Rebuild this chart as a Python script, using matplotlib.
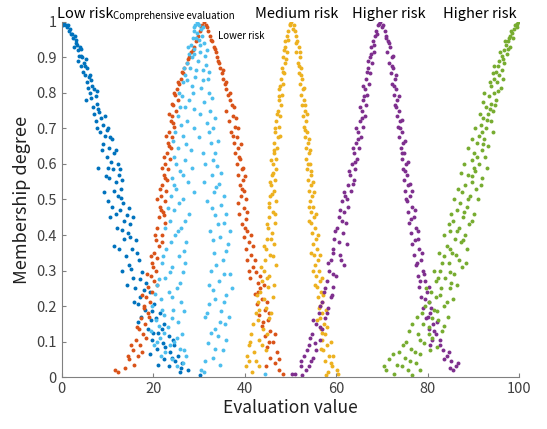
import numpy as np
import matplotlib
matplotlib.use("Agg")
import matplotlib.pyplot as plt

plt.rcParams['font.family'] = ['Noto Sans CJK SC', 'DejaVu Sans']

# membership points, (evaluation value, membership degree)
low_risk = [(0.1,1.00),(0.5,0.995),(0.9,0.99),(1.2,0.985),(1.6,0.975),(1.9,0.98),(2.2,0.965),(2.5,0.955),(2.8,0.96),(3.0,0.94),
            (3.3,0.935),(3.6,0.92),(3.9,0.93),(4.1,0.905),(4.4,0.90),(3.5,0.89),(4.8,0.885),(5.1,0.875),(5.6,0.87),(4.6,0.86),
            (5.9,0.845),(6.2,0.85),(5.4,0.83),(6.6,0.82),(7.0,0.81),(6.1,0.80),(7.4,0.79),(5.3,0.78),(7.8,0.77),(6.8,0.76),
            (8.1,0.745),(8.6,0.73),(7.4,0.72),(9.0,0.71),(10.2,0.70),(8.4,0.69),(9.5,0.68),(11.0,0.67),(9.0,0.655),(10.3,0.645),
            (11.5,0.63),(9.8,0.62),(10.8,0.605),(12.2,0.60),(8.0,0.59),(11.3,0.585),(12.6,0.57),(10.4,0.56),(11.9,0.55),(13.0,0.53),
            (9.2,0.52),(12.3,0.51),(13.4,0.49),(11.0,0.48),(12.8,0.47),(14.2,0.455),(10.5,0.45),(13.5,0.44),(15.0,0.43),(12.0,0.42),
            (14.4,0.405),(13.6,0.39),(16.2,0.385),(11.5,0.37),(15.4,0.36),(14.0,0.34),(16.8,0.33),(14.8,0.315),(13.2,0.30),(17.5,0.295),
            (15.6,0.28),(18.5,0.265),(16.0,0.25),(19.2,0.24),(17.2,0.225),(15.8,0.21),(20.2,0.205),(18.3,0.19),(21.5,0.18),(17.4,0.17),
            (19.6,0.16),(22.3,0.15),(18.8,0.135),(21.0,0.125),(23.5,0.115),(19.8,0.105),(22.2,0.095),(24.6,0.09),(20.8,0.08),(23.6,0.07),
            (25.4,0.06),(22.4,0.05),(24.8,0.045),(26.3,0.04),(23.4,0.03),(27.5,0.02),(25.8,0.015),(30.2,0.005),
            (0.3,0.99),(1.4,0.99),(2.0,0.965),(3.2,0.95),(2.6,0.93),(4.3,0.925),(3.8,0.905),(5.3,0.895),(4.2,0.875),(5.0,0.85),
            (6.4,0.835),(5.7,0.815),(7.6,0.805),(6.4,0.785),(8.0,0.755),(7.1,0.74),(9.4,0.735),(7.8,0.70),(9.8,0.695),(10.6,0.675),
            (8.8,0.64),(11.8,0.64),(10.0,0.59),(12.8,0.585),(9.6,0.565),(13.2,0.555),(11.4,0.525),(12.9,0.505),(10.0,0.495),(14.6,0.475),
            (11.8,0.46),(15.6,0.45),(13.2,0.415),(14.9,0.395),(12.6,0.36),(16.4,0.35),(15.2,0.305),(17.0,0.275),(14.2,0.26),(18.0,0.245),
            (16.6,0.205),(19.8,0.185),(20.6,0.165),(16.6,0.155),(21.8,0.135),(20.0,0.125),(24.4,0.105),(22.6,0.085),(19.2,0.065),(24.2,0.055),
            (26.0,0.025),(21.0,0.035)]

lower_risk = [(31.0,1.00),(30.6,0.99),(31.5,0.99),(30.2,0.975),(32.0,0.975),(29.8,0.96),(32.5,0.96),(29.3,0.945),(32.9,0.945),(28.8,0.93),
              (33.3,0.93),(28.3,0.915),(33.7,0.915),(27.8,0.90),(34.0,0.90),(27.3,0.885),(34.4,0.885),(26.8,0.87),(34.7,0.87),(26.5,0.855),
              (35.0,0.855),(26.0,0.84),(35.3,0.84),(25.6,0.825),(35.7,0.825),(25.2,0.81),(36.0,0.81),(24.8,0.795),(36.3,0.795),(25.5,0.78),
              (36.7,0.78),(24.4,0.765),(37.2,0.765),(24.9,0.75),(36.0,0.75),(24.1,0.735),(37.5,0.735),(23.8,0.72),(36.6,0.72),(24.6,0.705),
              (37.9,0.705),(23.5,0.69),(37.0,0.69),(24.2,0.675),(38.3,0.675),(23.2,0.66),(37.6,0.66),(23.9,0.645),(38.6,0.645),(22.9,0.63),
              (37.9,0.63),(23.6,0.615),(39.0,0.615),(22.6,0.60),(38.3,0.60),(23.3,0.585),(39.3,0.585),(22.3,0.57),(38.6,0.57),(23.0,0.555),
              (39.6,0.555),(22.0,0.54),(38.9,0.54),(22.8,0.525),(39.9,0.525),(21.7,0.51),(39.2,0.51),(22.5,0.495),(38.6,0.49),(21.5,0.48),
              (39.8,0.475),(22.2,0.465),(38.8,0.46),(21.2,0.45),(40.2,0.445),(22.6,0.435),(39.4,0.43),(20.9,0.42),(40.6,0.41),(21.8,0.40),
              (39.8,0.395),(20.6,0.385),(41.0,0.38),(21.3,0.37),(40.2,0.36),(20.2,0.35),(41.4,0.345),(20.9,0.335),(40.6,0.33),(19.8,0.32),
              (41.8,0.31),(20.5,0.30),(42.4,0.295),(19.4,0.285),(41.2,0.28),(20.2,0.27),(42.8,0.265),(18.9,0.255),(43.4,0.25),(19.7,0.24),
              (42.2,0.235),(18.4,0.225),(43.8,0.22),(19.3,0.21),(42.6,0.205),(17.9,0.195),(44.4,0.19),(18.8,0.18),(43.2,0.175),(17.4,0.165),
              (45.0,0.16),(18.3,0.15),(43.8,0.145),(16.8,0.135),(45.6,0.13),(17.7,0.12),(44.4,0.115),(16.2,0.105),(46.2,0.10),(17.2,0.09),
              (44.9,0.085),(15.6,0.075),(47.0,0.07),(16.6,0.06),(45.6,0.055),(14.8,0.05),(46.6,0.04),(15.8,0.035),(13.8,0.025),(47.6,0.02),
              (12.2,0.015),(11.6,0.02),(48.4,0.008),
              (30.4,0.985),(31.8,0.985),(29.6,0.95),(32.7,0.95),(28.6,0.92),(33.5,0.925),(27.6,0.895),(34.2,0.89),(26.2,0.86),(35.2,0.865),
              (25.4,0.83),(35.9,0.83),(24.6,0.80),(36.8,0.80),(24.0,0.77),(37.6,0.76),(23.4,0.74),(38.2,0.73),(24.4,0.715),(38.6,0.70),
              (22.8,0.68),(37.4,0.68),(23.4,0.65),(39.2,0.655),(22.4,0.62),(38.8,0.62),(21.8,0.59),(39.6,0.59),(22.6,0.56),(40.0,0.565),
              (21.4,0.53),(39.4,0.53),(20.8,0.50),(40.2,0.50),(21.6,0.47),(40.6,0.465),(22.4,0.455),(40.0,0.42),(20.4,0.40),(41.4,0.40),
              (21.8,0.38),(41.8,0.37),(19.6,0.34),(42.2,0.33),(20.0,0.31),(41.0,0.30),(18.6,0.29),(43.4,0.285),(20.8,0.26),(44.2,0.26),
              (17.6,0.23),(42.8,0.24),(18.0,0.20),(44.8,0.21),(19.0,0.17),(45.4,0.18),(16.4,0.14),(44.0,0.155),(18.4,0.11),(46.6,0.12),
              (15.2,0.09),(45.4,0.10),(17.6,0.07),(47.6,0.05),(14.4,0.06),(44.6,0.03)]

comprehensive = [(29.6,1.00),(29.2,0.99),(30.1,0.99),(28.9,0.975),(30.4,0.98),(29.5,0.97),(28.6,0.955),(30.7,0.96),(29.9,0.95),(28.2,0.935),
                 (31.0,0.94),(29.0,0.925),(27.8,0.91),(30.3,0.915),(31.3,0.905),(28.5,0.90),(27.4,0.885),(29.7,0.89),(31.6,0.88),(28.0,0.87),
                 (30.8,0.865),(27.0,0.85),(29.2,0.845),(31.9,0.84),(26.6,0.83),(28.4,0.82),(30.4,0.815),(32.1,0.80),(26.2,0.79),(27.8,0.78),
                 (31.2,0.775),(25.8,0.76),(29.0,0.755),(32.5,0.75),(25.5,0.735),(27.3,0.72),(31.8,0.715),(33.0,0.70),(24.8,0.69),(26.6,0.68),
                 (30.0,0.675),(32.6,0.66),(25.3,0.645),(28.2,0.64),(33.6,0.63),(24.6,0.62),(26.9,0.61),(31.4,0.60),(34.0,0.595),(25.8,0.58),
                 (32.8,0.57),(24.2,0.56),(27.5,0.55),(34.4,0.545),(25.0,0.53),(33.2,0.52),(23.8,0.51),(26.4,0.50),(31.8,0.495),(34.8,0.485),
                 (24.6,0.47),(27.8,0.46),(33.6,0.455),(23.6,0.44),(35.5,0.435),(26.0,0.42),(32.4,0.41),(24.8,0.40),(34.6,0.395),(27.2,0.38),
                 (36.4,0.375),(22.8,0.36),(33.2,0.35),(25.6,0.34),(35.2,0.33),(21.8,0.32),(24.2,0.31),(32.6,0.30),(26.4,0.295),(36.8,0.29),
                 (22.6,0.28),(34.4,0.27),(20.8,0.26),(25.2,0.25),(33.0,0.245),(23.4,0.24),(36.0,0.23),(21.6,0.22),(26.0,0.21),(32.2,0.205),
                 (19.8,0.20),(24.4,0.19),(34.8,0.185),(22.4,0.175),(31.4,0.17),(20.6,0.16),(25.4,0.155),(35.6,0.15),(23.2,0.14),(33.4,0.135),
                 (19.4,0.13),(26.2,0.12),(34.2,0.115),(21.4,0.11),(24.6,0.10),(32.0,0.095),(20.2,0.09),(25.8,0.08),(35.2,0.075),(22.6,0.07),
                 (27.2,0.06),(33.0,0.055),(24.0,0.05),(26.4,0.04),(30.4,0.02),(31.2,0.015),(44.5,0.01),
                 (29.8,0.995),(28.8,0.985),(30.9,0.985),(29.4,0.955),(30.2,0.935),(27.6,0.93),(28.8,0.91),(31.8,0.92),(26.8,0.87),(29.4,0.865),
                 (32.2,0.86),(27.4,0.835),(30.8,0.835),(28.6,0.80),(25.6,0.80),(32.8,0.785),(27.0,0.76),(30.2,0.74),(33.4,0.73),(26.0,0.71),
                 (28.8,0.70),(32.2,0.69),(24.4,0.665),(34.2,0.665),(27.2,0.655),(30.8,0.63),(25.0,0.60),(33.0,0.61),(28.4,0.59),(34.8,0.575),
                 (26.4,0.57),(31.0,0.55),(24.6,0.54),(33.8,0.535),(28.8,0.52),(35.4,0.51),(25.6,0.49),(32.8,0.475),(23.2,0.475),(36.0,0.46),
                 (27.0,0.44),(34.2,0.43),(22.6,0.42),(25.4,0.41),(36.8,0.41),(33.0,0.385),(23.8,0.38),(26.8,0.355),(35.8,0.355),(22.2,0.34),
                 (33.8,0.315),(27.0,0.32),(23.6,0.295),(35.4,0.29),(21.2,0.275),(25.8,0.265),(32.2,0.26),(37.2,0.25),(24.0,0.225),(33.6,0.22),
                 (20.4,0.235),(35.4,0.21),(22.0,0.19),(26.8,0.185),(31.8,0.18),(36.6,0.17),(24.2,0.165),(21.2,0.145),(34.6,0.155),(32.6,0.125),
                 (22.4,0.125),(25.2,0.11),(36.0,0.105),(20.8,0.10),(33.6,0.08),(23.6,0.09),(21.6,0.06),(26.8,0.075),(31.4,0.045),(25.2,0.03),
                 (34.6,0.035)]

medium_risk = [(50.2,1.00),(49.8,0.99),(50.7,0.99),(49.5,0.975),(51.0,0.975),(49.2,0.96),(51.3,0.96),(48.9,0.945),(51.5,0.945),(48.7,0.93),
               (51.8,0.93),(49.3,0.915),(51.3,0.915),(48.4,0.90),(52.1,0.90),(48.9,0.885),(51.6,0.885),(48.1,0.87),(52.3,0.87),(48.6,0.855),
               (51.9,0.855),(47.9,0.84),(52.6,0.84),(48.4,0.825),(52.1,0.825),(47.6,0.81),(52.8,0.81),(48.2,0.795),(52.3,0.795),(47.4,0.78),
               (53.0,0.78),(47.9,0.765),(52.5,0.765),(47.2,0.75),(53.2,0.75),(47.7,0.735),(52.7,0.735),(46.9,0.72),(53.4,0.72),(47.5,0.705),
               (52.9,0.705),(46.7,0.69),(53.6,0.69),(47.3,0.675),(53.1,0.675),(46.5,0.66),(53.8,0.66),(47.1,0.645),(53.3,0.645),(46.3,0.63),
               (54.0,0.63),(46.9,0.615),(53.5,0.615),(46.1,0.60),(54.2,0.60),(46.8,0.585),(53.7,0.585),(45.9,0.57),(54.4,0.57),(46.6,0.555),
               (53.9,0.555),(45.7,0.54),(54.6,0.54),(46.4,0.525),(54.0,0.525),(45.6,0.51),(54.8,0.51),(46.8,0.495),(54.2,0.495),(45.4,0.48),
               (55.0,0.48),(46.2,0.465),(54.4,0.465),(45.2,0.45),(55.2,0.45),(46.6,0.435),(54.6,0.435),(45.0,0.42),(55.4,0.42),(46.0,0.405),
               (54.8,0.405),(44.8,0.39),(55.6,0.39),(46.4,0.375),(55.0,0.375),(44.6,0.36),(55.8,0.36),(45.6,0.345),(55.2,0.345),(44.4,0.33),
               (56.0,0.33),(46.8,0.315),(55.4,0.315),(44.2,0.30),(56.2,0.30),(45.4,0.285),(55.6,0.285),(43.8,0.27),(56.4,0.27),(45.0,0.255),
               (55.8,0.255),(43.4,0.24),(56.6,0.24),(46.2,0.225),(56.0,0.225),(42.9,0.21),(56.8,0.21),(44.6,0.195),(56.2,0.195),(42.4,0.18),
               (57.0,0.18),(45.4,0.165),(56.4,0.165),(41.9,0.15),(57.3,0.15),(44.0,0.135),(56.6,0.135),(41.4,0.12),(57.6,0.12),(43.2,0.105),
               (56.9,0.105),(40.9,0.09),(58.0,0.09),(44.6,0.075),(57.2,0.075),(40.6,0.06),(58.4,0.06),(42.4,0.045),(57.6,0.045),(40.2,0.03),
               (59.0,0.03),(41.6,0.015),(58.2,0.015),(60.4,0.008),(57.8,0.005),
               (50.0,0.995),(50.5,0.98),(49.4,0.95),(51.2,0.94),(48.6,0.92),(52.0,0.915),(49.0,0.895),(51.8,0.875),(48.3,0.86),(52.4,0.85),
               (47.8,0.82),(52.9,0.815),(47.5,0.79),(53.1,0.765),(47.0,0.74),(53.6,0.74),(46.6,0.70),(53.2,0.695),(47.8,0.68),(54.0,0.67),
               (46.4,0.64),(54.3,0.64),(45.8,0.61),(53.8,0.60),(46.2,0.575),(54.6,0.58),(45.5,0.55),(55.0,0.55),(46.0,0.515),(55.2,0.52),
               (45.2,0.49),(54.0,0.48),(46.6,0.46),(55.6,0.46),(44.8,0.43),(54.0,0.44),(45.8,0.39),(56.0,0.40),(44.2,0.37),(54.6,0.35),
               (46.2,0.34),(56.4,0.345),(43.6,0.31),(55.0,0.30),(44.8,0.28),(57.0,0.28),(46.4,0.26),(55.4,0.26),(42.6,0.23),(57.2,0.23),
               (44.2,0.22),(56.4,0.20),(43.2,0.19),(57.8,0.19),(45.8,0.18),(55.8,0.16),(42.8,0.16),(58.0,0.14),(44.8,0.12),(57.0,0.125),
               (41.2,0.10),(58.8,0.10),(43.8,0.09),(56.6,0.08),(42.0,0.07),(59.4,0.06),(43.2,0.03),(58.8,0.04),(41.0,0.045),(60.2,0.02)]

higher_risk = [(69.6,1.00),(69.1,0.99),(70.2,0.99),(68.7,0.975),(70.6,0.975),(68.4,0.96),(71.0,0.96),(68.0,0.945),(71.3,0.945),(67.7,0.93),
               (71.7,0.93),(68.3,0.915),(71.2,0.915),(67.3,0.90),(72.1,0.90),(67.8,0.885),(71.6,0.885),(66.9,0.87),(72.5,0.87),(67.4,0.855),
               (72.0,0.855),(66.6,0.84),(72.8,0.84),(67.1,0.825),(72.3,0.825),(66.3,0.81),(73.1,0.81),(66.8,0.795),(72.6,0.795),(65.9,0.78),
               (73.4,0.78),(66.5,0.765),(72.9,0.765),(65.6,0.75),(73.7,0.75),(66.2,0.735),(73.2,0.735),(65.2,0.72),(74.0,0.72),(65.8,0.705),
               (73.5,0.705),(64.8,0.69),(74.3,0.69),(65.4,0.675),(73.8,0.675),(64.4,0.66),(74.6,0.66),(65.0,0.645),(74.1,0.645),(64.0,0.63),
               (74.9,0.63),(64.6,0.615),(74.3,0.615),(63.5,0.60),(75.2,0.60),(64.2,0.585),(74.6,0.585),(63.0,0.57),(75.5,0.57),(63.8,0.555),
               (74.9,0.555),(62.5,0.54),(75.8,0.54),(63.3,0.525),(75.1,0.525),(62.0,0.51),(76.2,0.51),(61.2,0.495),(75.4,0.495),(62.6,0.48),
               (76.6,0.48),(61.6,0.465),(75.7,0.465),(60.6,0.45),(77.0,0.45),(62.2,0.435),(76.0,0.435),(60.2,0.42),(77.4,0.42),(61.4,0.405),
               (76.3,0.405),(59.6,0.39),(77.8,0.39),(62.4,0.375),(76.6,0.375),(59.2,0.36),(78.2,0.36),(60.8,0.345),(77.0,0.345),(58.8,0.33),
               (78.6,0.33),(61.6,0.315),(77.4,0.315),(58.4,0.30),(79.0,0.30),(60.0,0.285),(77.8,0.285),(57.9,0.27),(79.4,0.27),(59.4,0.255),
               (78.2,0.255),(57.4,0.24),(79.8,0.24),(58.8,0.225),(78.6,0.225),(56.8,0.21),(80.2,0.21),(58.2,0.195),(79.0,0.195),(56.2,0.18),
               (80.6,0.18),(57.6,0.165),(79.6,0.165),(55.6,0.15),(81.2,0.15),(57.0,0.135),(80.4,0.135),(54.8,0.12),(81.8,0.12),(56.4,0.105),
               (81.0,0.105),(54.0,0.09),(82.6,0.09),(55.6,0.075),(83.4,0.075),(53.0,0.06),(84.2,0.06),(54.6,0.045),(85.0,0.045),(52.2,0.03),
               (86.2,0.03),(53.4,0.02),(85.6,0.02),(51.0,0.01),(52.6,0.005),
               (69.4,0.995),(70.0,0.985),(68.9,0.965),(70.8,0.955),(68.2,0.935),(71.5,0.94),(67.6,0.91),(72.4,0.905),(67.0,0.89),(72.2,0.875),
               (66.7,0.86),(73.0,0.85),(65.8,0.82),(72.6,0.82),(66.0,0.79),(73.7,0.79),(65.2,0.76),(73.0,0.76),(65.6,0.73),(74.4,0.725),
               (64.4,0.70),(74.0,0.70),(64.8,0.67),(75.0,0.665),(63.6,0.645),(74.4,0.63),(64.2,0.605),(75.6,0.605),(62.8,0.58),(75.0,0.58),
               (63.6,0.545),(76.2,0.545),(61.6,0.52),(76.6,0.525),(62.4,0.50),(75.2,0.50),(60.8,0.47),(77.2,0.47),(61.2,0.44),(76.4,0.445),
               (59.8,0.41),(78.0,0.41),(60.6,0.38),(77.2,0.385),(59.4,0.35),(78.8,0.35),(61.0,0.33),(77.6,0.32),(58.2,0.32),(79.2,0.29),
               (59.4,0.29),(78.4,0.27),(57.6,0.25),(80.2,0.255),(59.0,0.23),(79.4,0.22),(56.4,0.20),(80.8,0.195),(58.0,0.18),(80.0,0.17),
               (55.0,0.16),(82.0,0.155),(56.4,0.14),(81.4,0.13),(54.2,0.11),(82.8,0.105),(55.4,0.095),(80.6,0.09),(53.6,0.075),(84.6,0.07),
               (55.0,0.055),(83.6,0.05),(52.4,0.045),(86.6,0.04),(54.0,0.03),(84.8,0.025),(50.4,0.008)]

high_risk = [(99.8,1.00),(99.3,0.99),(98.9,0.98),(99.5,0.985),(98.5,0.97),(98.0,0.96),(98.7,0.955),(97.6,0.945),(97.1,0.935),(98.0,0.93),
             (96.7,0.92),(97.4,0.91),(96.2,0.905),(95.7,0.89),(96.8,0.885),(95.3,0.875),(96.2,0.865),(94.9,0.86),(95.7,0.85),(94.5,0.84),
             (95.2,0.83),(93.9,0.82),(96.0,0.815),(94.6,0.80),(93.4,0.79),(95.0,0.78),(93.9,0.77),(92.8,0.76),(94.4,0.75),(93.2,0.74),
             (92.2,0.73),(93.8,0.72),(91.6,0.71),(92.8,0.70),(94.2,0.69),(91.2,0.68),(92.4,0.67),(90.8,0.66),(93.2,0.65),(91.8,0.64),
             (90.2,0.63),(92.6,0.62),(89.6,0.61),(91.2,0.60),(93.0,0.59),(90.4,0.58),(88.8,0.57),(91.8,0.56),(89.6,0.55),(88.2,0.54),
             (90.6,0.53),(87.6,0.52),(89.2,0.51),(91.0,0.50),(87.0,0.49),(88.6,0.48),(86.4,0.47),(90.2,0.46),(87.8,0.45),(85.6,0.44),
             (89.0,0.43),(86.8,0.42),(84.8,0.41),(88.2,0.40),(86.0,0.39),(87.4,0.38),(84.2,0.37),(88.6,0.36),(85.4,0.35),(83.6,0.34),
             (86.8,0.33),(84.6,0.32),(87.6,0.31),(82.8,0.30),(85.8,0.29),(83.8,0.28),(81.8,0.27),(86.4,0.26),(84.8,0.25),(80.8,0.24),
             (82.8,0.23),(85.6,0.22),(80.2,0.21),(83.6,0.20),(81.4,0.19),(78.8,0.18),(84.4,0.17),(82.2,0.16),(76.6,0.15),(80.2,0.14),
             (83.2,0.13),(77.8,0.12),(81.0,0.11),(75.2,0.10),(79.2,0.095),(82.0,0.085),(76.4,0.08),(73.8,0.07),(78.4,0.065),(75.0,0.055),
             (71.6,0.05),(77.4,0.04),(73.2,0.035),(70.4,0.03),(75.6,0.02),(72.6,0.01),(76.6,0.005),
             (99.6,0.995),(99.0,0.99),(98.2,0.975),(97.8,0.955),(96.9,0.945),(97.6,0.925),(95.8,0.915),(96.4,0.895),(94.6,0.875),(96.4,0.84),
             (94.2,0.855),(93.6,0.83),(95.4,0.805),(92.4,0.80),(94.8,0.765),(92.0,0.775),(93.6,0.755),(91.4,0.74),(93.0,0.725),(90.4,0.70),
             (91.8,0.69),(89.8,0.67),(92.0,0.655),(88.8,0.645),(90.8,0.62),(88.0,0.60),(90.2,0.59),(87.4,0.575),(89.8,0.565),(91.6,0.54),
             (86.6,0.53),(88.8,0.50),(85.8,0.50),(88.0,0.465),(85.0,0.46),(89.6,0.44),(84.6,0.43),(86.4,0.41),(83.6,0.40),(87.8,0.385),
             (84.8,0.36),(82.4,0.35),(86.2,0.345),(83.2,0.32),(88.4,0.32),(81.4,0.30),(84.8,0.295),(82.2,0.28),(85.2,0.265),(79.6,0.25),
             (83.0,0.25),(81.8,0.225),(84.2,0.21),(79.4,0.20),(82.0,0.185),(77.6,0.17),(81.0,0.165),(79.0,0.15),(83.6,0.145),(76.0,0.13),
             (80.4,0.12),(78.4,0.105),(74.6,0.09),(80.6,0.075),(77.2,0.07),(72.4,0.065),(76.2,0.045),(74.4,0.03),(71.0,0.02),(78.4,0.02)]

x_ticks = [0, 20, 40, 60, 80, 100]
y_ticks = [0, 0.1, 0.2, 0.3, 0.4, 0.5, 0.6, 0.7, 0.8, 0.9, 1]
y_tick_labels = ["0", "0.1", "0.2", "0.3", "0.4", "0.5", "0.6", "0.7", "0.8", "0.9", "1"]

# matlab default colours
series = [(low_risk, "#0072BD"), (lower_risk, "#D95319"), (comprehensive, "#4DBEEE"),
          (medium_risk, "#EDB120"), (higher_risk, "#7E2F8E"), (high_risk, "#77AC30")]

fig = plt.figure(figsize=(5.47, 4.29), dpi=100)
ax = fig.add_axes([0.113, 0.121, 0.836, 0.828])

for pts, col in series:
    xy = np.array(pts)
    ax.scatter(xy[:, 0], xy[:, 1], s=8, color=col, linewidths=0)

ax.set_xlim(0, 100)
ax.set_ylim(0, 1)
ax.set_xticks(x_ticks)
ax.set_yticks(y_ticks)
ax.set_yticklabels(y_tick_labels)
ax.tick_params(direction='in', length=3, color='#808080', labelcolor='#404040', labelsize=10.5)
for s in ['top', 'right']:
    ax.spines[s].set_visible(False)
for s in ['left', 'bottom']:
    ax.spines[s].set_color('#808080')

ax.set_xlabel("Evaluation value", fontsize=12.5, color='#202020', labelpad=2)
ax.set_ylabel("Membership degree", fontsize=13, color='#202020', labelpad=4)

# labels above the curves
ax.text(-1.1, 1.023, "Low risk", fontsize=10.5, va='center', ha='left')
ax.text(11.2, 1.017, "Comprehensive evaluation", fontsize=7, va='center', ha='left')
ax.text(34.1, 0.961, "Lower risk", fontsize=7, va='center', ha='left')
ax.text(42.2, 1.023, "Medium risk", fontsize=10.5, va='center', ha='left')
ax.text(63.5, 1.023, "Higher risk", fontsize=10.5, va='center', ha='left')
ax.text(83.4, 1.023, "Higher risk", fontsize=10.5, va='center', ha='left')

fig.savefig("out.png", dpi=100)
